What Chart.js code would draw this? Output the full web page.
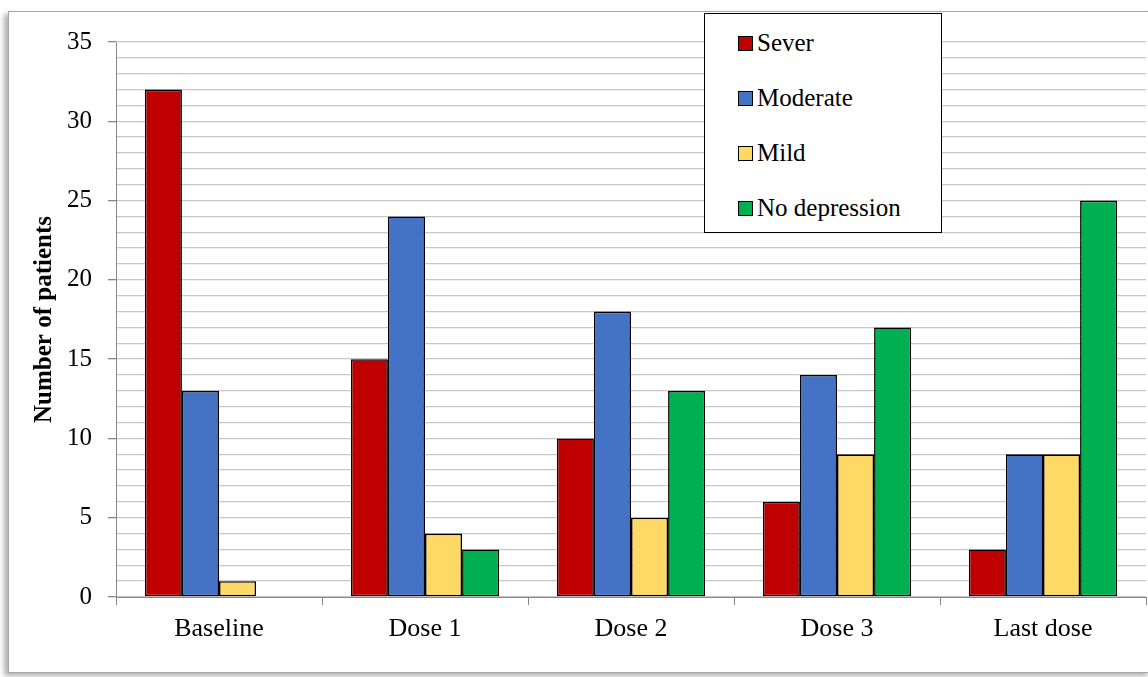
<!DOCTYPE html>
<html>
<head>
<meta charset="utf-8">
<script src="https://cdn.jsdelivr.net/npm/chart.js@4/dist/chart.umd.min.js"></script>
<style>
  html, body { margin: 0; padding: 0; background: #fff; }
  #wrap { position: relative; width: 1148px; height: 677px; overflow: hidden; }
  #frame {
    position: absolute; left: 8px; top: 11px; width: 1142px; height: 660px;
    border: 1px solid #a6a6a6; box-shadow: -4px 3px 5px rgba(0,0,0,0.3);
    background: #fff;
  }
  #chart { position: absolute; left: 0; top: 0; }
  #legend {
    position: absolute; left: 704px; top: 13px; width: 236px; height: 218px;
    border: 1.5px solid #000; background: #fff;
    font-family: "Liberation Serif", "Times New Roman", serif; font-size: 25px; color: #000;
  }
  .item { position: absolute; left: 33px; height: 28px; line-height: 28px; white-space: nowrap; }
  .item span.box {
    display: inline-block; width: 13px; height: 13px; border: 1px solid #000;
    margin-right: 4px; vertical-align: 0px;
  }
</style>
</head>
<body>
<div id="wrap">
  <div id="frame"></div>
  <canvas id="chart" width="1148" height="677"></canvas>
  <div id="legend"></div>
</div>
<script>
// Dati del grafico
const categories = ['Baseline', 'Dose 1', 'Dose 2', 'Dose 3', 'Last dose'];
const severValues = [32, 15, 10, 6, 3];
const moderateValues = [13, 24, 18, 14, 9];
const mildValues = [1, 4, 5, 9, 9];
const noDepressionValues = [null, 3, 13, 17, 25];
const seriesNames = ['Sever', 'Moderate', 'Mild', 'No depression'];
const seriesColors = ['#c00000', '#4472c4', '#ffd966', '#00b050'];
const yTicks = [0, 5, 10, 15, 20, 25, 30, 35];

const serif = '"Liberation Serif", "Times New Roman", serif';

function drawChart() {
  const allValues = [severValues, moderateValues, mildValues, noDepressionValues];
  const datasets = allValues.map((vals, i) => ({
    label: seriesNames[i],
    data: vals,
    backgroundColor: seriesColors[i],
    borderColor: '#000',
    borderWidth: 1.6,
    borderSkipped: false,
    categoryPercentage: 0.72,
    barPercentage: 1.0
  }));

  const ctx = document.getElementById('chart').getContext('2d');
  const chart = new Chart(ctx, {
    type: 'bar',
    data: { labels: categories, datasets: datasets },
    options: {
      responsive: false,
      animation: false,
      layout: { padding: { left: 30, right: 2, top: 42, bottom: 0 } },
      plugins: {
        legend: { display: false },
        tooltip: { enabled: false }
      },
      scales: {
        x: {
          offset: true,
          grid: {
            offset: true,
            drawOnChartArea: false,
            color: '#868686',
            tickLength: 8
          },
          border: { color: '#868686', width: 1 },
          ticks: {
            font: { family: serif, size: 26 },
            color: '#000',
            padding: 9
          },
          afterFit: function(scale) { scale.height = 80; }
        },
        y: {
          min: 0,
          max: 35,
          grid: {
            color: '#c8c8c8',
            lineWidth: 1.3,
            tickLength: 8,
            tickColor: function(c) {
              return yTicks.includes(c.tick.value) ? '#868686' : 'rgba(0,0,0,0)';
            }
          },
          border: { color: '#868686', width: 1 },
          ticks: {
            stepSize: 1,
            autoSkip: false,
            font: { family: serif, size: 25 },
            color: '#000',
            padding: 16,
            callback: function(v) { return yTicks.includes(v) ? String(v) : ''; }
          },
          title: {
            display: true,
            text: 'Number of patients',
            font: { family: serif, size: 25, weight: 'bold' },
            color: '#000',
            padding: 0
          },
          afterFit: function(scale) { scale.width = 86; }
        }
      }
    }
  });

  // Legenda HTML costruita dai dataset
  const legend = document.getElementById('legend');
  chart.data.datasets.forEach((ds, i) => {
    const item = document.createElement('div');
    item.className = 'item';
    item.style.top = (15 + i * 55) + 'px';
    const box = document.createElement('span');
    box.className = 'box';
    box.style.background = ds.backgroundColor;
    item.appendChild(box);
    item.appendChild(document.createTextNode(ds.label));
    legend.appendChild(item);
  });
}

// Aspetta il caricamento dei font prima di disegnare sul canvas
Promise.all([
  document.fonts.load('25px "Liberation Serif"'),
  document.fonts.load('bold 25px "Liberation Serif"')
]).then(drawChart, drawChart);
</script>
</body>
</html>
